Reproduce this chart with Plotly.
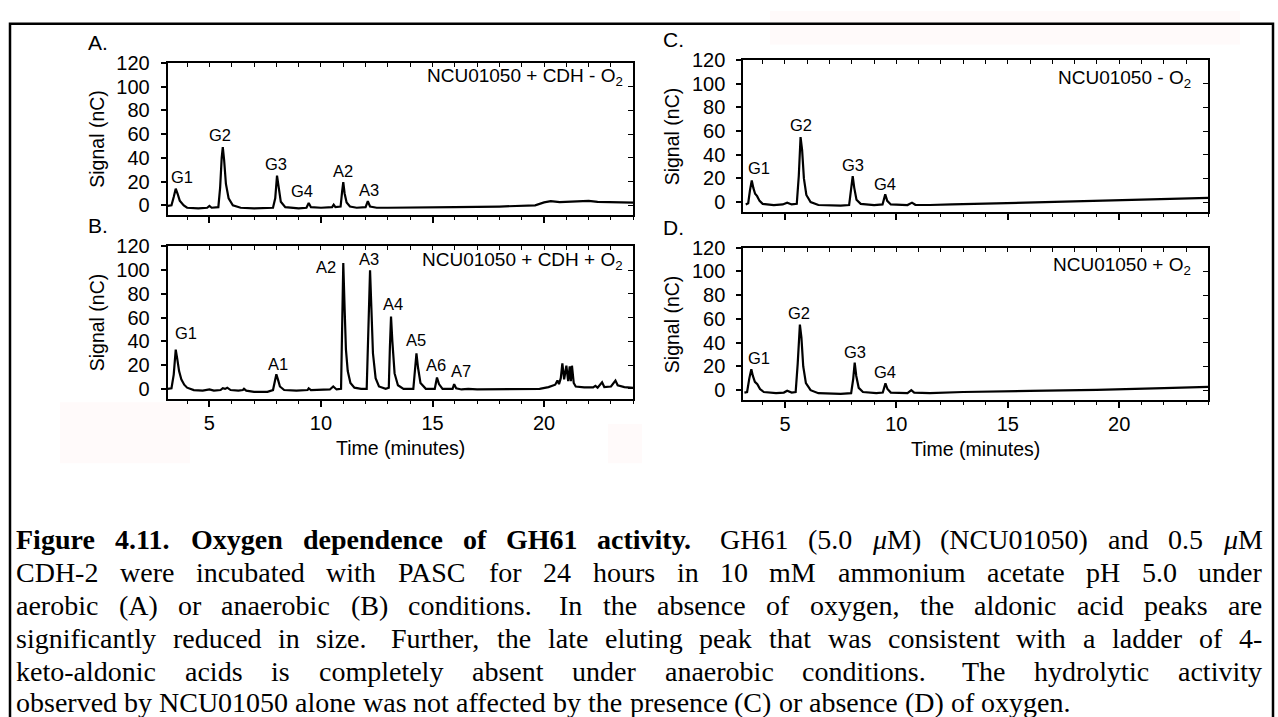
import plotly.graph_objects as go

# ---------------------------------------------------------------------------
# Chromatograms: (retention time [min], signal [nC]) pairs for each run
# ---------------------------------------------------------------------------
a_trace = [(3.13, -0.5), (3.3, 0), (3.4, 7), (3.49, 14), (3.57, 10), (3.67, 4), (3.85, 0),
           (4.0, -2), (4.5, -2.5), (4.9, -2), (5.0, -0.5), (5.1, -2), (5.4, -1.5), (5.48, 15),
           (5.55, 40), (5.6, 49), (5.66, 38), (5.74, 18), (5.86, 6), (6.05, 0), (6.4, -2),
           (7.0, -2.5), (7.85, -2), (7.95, 6), (8.03, 25), (8.1, 14), (8.2, 3), (8.4, -1.5),
           (9.0, -2.5), (9.35, -2), (9.45, 2), (9.55, -1.5), (10.0, -2), (10.5, -1.5),
           (10.57, 0.5), (10.65, -1.5), (10.88, -1), (10.95, 12), (11.0, 19.5), (11.06, 10),
           (11.15, 2.5), (11.3, -1), (11.6, -2), (12.0, -1.5), (12.1, 3.5), (12.2, -1),
           (12.5, -2), (13.0, -2), (14.0, -2), (16.0, -1.5), (18.0, -1), (19.0, -0.5),
           (19.6, 0), (20.0, 2.5), (20.3, 3.5), (20.7, 2.8), (21.2, 3), (21.6, 3.2), (22.0, 3.8),
           (22.4, 3), (23.0, 2.8), (23.5, 3), (24.0, 2.3)]

b_trace = [(3.12, 0), (3.3, 0.5), (3.4, 12), (3.49, 33), (3.56, 25), (3.64, 15), (3.74, 8),
           (3.87, 3.5), (4.0, 1), (4.3, -1), (4.7, -1.5), (5.0, -0.5), (5.2, -1.5), (5.5, -1),
           (5.6, 0.5), (5.7, 0), (5.8, 1), (5.95, -1), (6.3, -1.5), (6.5, -1), (6.55, 0),
           (6.65, -1.5), (7.0, -2.5), (7.6, -2.5), (7.85, -1), (7.94, 9), (8.0, 12.3), (8.07, 8),
           (8.16, 2), (8.35, -1), (8.9, -1.5), (9.4, -1), (9.45, 0.5), (9.55, -1), (10.0, -1),
           (10.4, -0.5), (10.55, 2), (10.7, -0.5), (10.9, 0), (10.96, 55), (11.0, 106),
           (11.06, 68), (11.12, 33), (11.2, 15), (11.32, 5), (11.5, 1), (11.8, 0), (12.05, 0),
           (12.14, 55), (12.2, 100), (12.26, 68), (12.33, 30), (12.45, 9), (12.6, 2), (12.9, 0),
           (13.04, 1), (13.09, 35), (13.14, 61), (13.2, 40), (13.3, 13), (13.45, 3), (13.7, 0),
           (14.14, 0), (14.21, 15), (14.28, 30), (14.35, 18), (14.46, 5), (14.7, 0), (15.1, 0),
           (15.2, 9.6), (15.29, 4), (15.45, 0), (15.9, 0), (15.97, 4), (16.06, 0.5),
           (16.3, -0.5), (16.6, 0), (17.0, -0.5), (18.0, -0.5), (19.0, -0.5), (19.8, 0),
           (20.2, 1.5), (20.5, 3.5), (20.6, 7), (20.67, 4), (20.75, 9), (20.82, 21.5), (20.9, 8),
           (21.0, 19.5), (21.08, 6.5), (21.15, 19), (21.2, 6.5), (21.25, 19.5), (21.33, 5),
           (21.42, 2), (21.8, 1.3), (22.2, 1.3), (22.3, 2.5), (22.4, 1), (22.6, 5.5), (22.7, 1.5),
           (23.0, 2), (23.2, 7), (23.3, 3), (23.6, 1.5), (24.0, 0.8)]

c_trace = [(3.24, -2), (3.35, -1), (3.43, 10), (3.51, 18.3), (3.58, 12), (3.66, 7), (3.75, 5),
           (3.86, 1), (4.0, -1.5), (4.5, -2.5), (4.9, -2), (5.1, -0.5), (5.3, -2), (5.53, -1.5),
           (5.62, 22), (5.7, 55), (5.77, 44), (5.85, 20), (5.96, 6), (6.15, 0), (6.5, -2.5),
           (7.5, -3), (7.88, -2.5), (7.97, 9), (8.04, 22), (8.11, 12), (8.21, 2), (8.4, -1.5),
           (9.0, -2.5), (9.38, -2), (9.5, 6.5), (9.59, 1), (9.75, -2), (10.5, -2.5), (10.7, -0.5),
           (10.85, -2.3), (11.5, -2.5), (12.5, -2), (15.0, -1), (18.0, 0.5), (21.0, 2),
           (24.0, 3.5)]

d_trace = [(3.18, -2), (3.3, -1.5), (3.4, 10), (3.49, 17.7), (3.56, 12), (3.65, 7), (3.76, 5),
           (3.88, 1), (4.05, -1.5), (4.6, -2.5), (4.95, -2), (5.1, -0.5), (5.3, -2), (5.48, -1.5),
           (5.57, 22), (5.67, 55.2), (5.74, 44), (5.82, 20), (5.94, 6), (6.15, 0), (6.5, -2.5),
           (7.5, -3), (7.97, -2.5), (8.06, 9), (8.13, 23.2), (8.2, 12), (8.31, 2), (8.5, -1.5),
           (9.1, -2.5), (9.39, -2), (9.51, 5.8), (9.6, 1), (9.75, -2), (10.5, -2.5), (10.67, 0),
           (10.8, -2), (11.5, -2.5), (13.0, -1.5), (16.0, -0.5), (19.0, 0.3), (22.0, 1.8),
           (24.0, 2.8)]

# Peak assignments: name, apex time, apex signal
a_peak_names = ["G1", "G2", "G3", "G4", "A2", "A3"]
a_peak_times = [3.49, 5.6, 8.03, 9.45, 11.0, 12.1]
a_peak_heights = [14, 49, 25, 2, 19.5, 3.5]

b_peak_names = ["G1", "A1", "A2", "A3", "A4", "A5", "A6", "A7"]
b_peak_times = [3.49, 8.0, 11.0, 12.2, 13.14, 14.28, 15.2, 15.97]
b_peak_heights = [33, 12.3, 106, 100, 61, 30, 9.6, 4]

c_peak_names = ["G1", "G2", "G3", "G4"]
c_peak_times = [3.51, 5.7, 8.04, 9.5]
c_peak_heights = [18.3, 55, 22, 6.5]

d_peak_names = ["G1", "G2", "G3", "G4"]
d_peak_times = [3.49, 5.67, 8.13, 9.51]
d_peak_heights = [17.7, 55.2, 23.2, 5.8]

panel_letters = ["A.", "B.", "C.", "D."]
sample_names = ["NCU01050 + CDH - O<sub>2</sub>", "NCU01050 + CDH + O<sub>2</sub>",
                "NCU01050 - O<sub>2</sub>", "NCU01050 + O<sub>2</sub>"]

x_tick_values = [5, 10, 15, 20]
x_range = [3.13, 24.0]
y_range = [-8.3, 120]
x_title = "Time (minutes)"
y_title = "Signal (nC)"

caption_lines = [
    [("Figure 4.11. Oxygen dependence of GH61 activity.", True),
     (" GH61 (5.0 μM) (NCU01050) and 0.5 μM", False)],
    [("CDH-2 were incubated with PASC for 24 hours in 10 mM ammonium acetate pH 5.0 under", False)],
    [("aerobic (A) or anaerobic (B) conditions.  In the absence of oxygen, the aldonic acid peaks are", False)],
    [("significantly reduced in size.  Further, the late eluting peak that was consistent with a ladder of 4-", False)],
    [("keto-aldonic acids is completely absent under anaerobic conditions.  The hydrolytic activity", False)],
    [("observed by NCU01050 alone was not affected by the presence (C) or absence (D) of oxygen.", False)],
]

# ---------------------------------------------------------------------------
# Page geometry (pixels)
# ---------------------------------------------------------------------------
W, H = 1278, 717
SANS = "Liberation Sans, Arial, Helvetica, sans-serif"
SERIF = "Liberation Serif, Times New Roman, serif"
TICK_SIZE = 20
TITLE_SIZE = 19.5
PEAK_SIZE = 16.5
NAME_SIZE = 19
LETTER_SIZE = 21


def px(x):
    return x / W


def py(y):
    return 1 - y / H


# plot boxes: left, right, top, bottom
boxes = [
    (167.7, 633.3, 52.7, 207.7),
    (167.7, 633.3, 239.5, 394.3),
    (743.3, 1208.3, 50.0, 204.3),
    (743.3, 1208.3, 240.7, 395.7),
]
show_x_labels = [False, True, False, True]

# label offsets in pixels (dx, dy) relative to each peak apex
label_offsets = [
    [(6, 12), (-3, 12), (-1, 12), (-6.5, 12), (0, 11.5), (1, 11.5)],
    [(10, 17), (2, 10), (-17, -3.5), (-1, 11), (1.5, 12), (0, 13), (-1, 12), (7, 13.5)],
    [(7, 12), (0, 12), (0, 11), (0, 10.5)],
    [(7.3, 11), (-1, 11.5), (0, 11), (0, 11.5)],
]
name_pos = [(623, 67), (623, 254), (1191, 69), (1191, 259)]

# faint off-white patches of the pasted panels (x0, x1, y0, y1)
patches = [(770, 1240, 0, 34), (60, 190, 398, 460), (608, 642, 420, 460)]

traces = [a_trace, b_trace, c_trace, d_trace]
peaks = [
    (a_peak_names, a_peak_times, a_peak_heights),
    (b_peak_names, b_peak_times, b_peak_heights),
    (c_peak_names, c_peak_times, c_peak_heights),
    (d_peak_names, d_peak_times, d_peak_heights),
]

fig = go.Figure()
layout = dict(
    width=W, height=H, margin=dict(l=0, r=0, t=0, b=0),
    paper_bgcolor="white", plot_bgcolor="rgba(0,0,0,0)", showlegend=False,
    font=dict(family=SANS, color="black"),
)
annotations = []
shapes = []

for x0, x1, y0, y1 in patches:
    shapes.append(dict(type="rect", xref="paper", yref="paper", layer="below",
                       x0=px(x0), x1=px(x1), y0=py(y1), y1=py(y0),
                       line=dict(width=0), fillcolor="#fffafa"))

for k in range(4):
    m, n = 2 * k + 1, 2 * k + 2
    sm = "" if m == 1 else str(m)
    left, right, top, bottom = boxes[k]
    xd = [px(left), px(right)]
    yd = [py(bottom), py(top)]

    t_vals = [p[0] for p in traces[k]]
    s_vals = [p[1] for p in traces[k]]
    fig.add_trace(go.Scatter(x=t_vals, y=s_vals, mode="lines",
                             line=dict(color="black", width=2.2),
                             xaxis=f"x{sm}", yaxis=f"y{sm}", hoverinfo="skip"))
    # companion subplot carrying the inward ticks on the top and right frame
    fig.add_trace(go.Scatter(x=[], y=[], mode="lines", xaxis=f"x{n}", yaxis=f"y{n}",
                             hoverinfo="skip"))

    layout[f"xaxis{sm}"] = dict(
        domain=xd, range=x_range, anchor=f"y{sm}", showline=True, linewidth=2,
        linecolor="black", mirror=True, ticks="outside", tickvals=x_tick_values,
        ticklen=6, tickwidth=1.5, tickcolor="black", showgrid=False, zeroline=False,
        showticklabels=show_x_labels[k], tickfont=dict(size=TICK_SIZE, family=SANS),
        ticklabelstandoff=-1,
        minor=dict(ticks="outside", tick0=0, dtick=1, ticklen=3, tickwidth=1.2,
                   tickcolor="black", showgrid=False),
    )
    layout[f"yaxis{sm}"] = dict(
        domain=yd, range=y_range, anchor=f"x{sm}", showline=True, linewidth=2,
        linecolor="black", mirror=True, ticks="outside", tick0=0, dtick=20,
        ticklen=5, tickwidth=1.5, tickcolor="black", showgrid=False, zeroline=False,
        tickfont=dict(size=TICK_SIZE, family=SANS), ticklabelstandoff=7,
    )
    layout[f"xaxis{n}"] = dict(
        overlaying=f"x{sm}", side="top", anchor=f"y{n}", range=x_range,
        ticks="inside", tick0=0, dtick=1, ticklen=4, tickwidth=1.2, tickcolor="black",
        showticklabels=False, showline=False, showgrid=False, zeroline=False,
    )
    layout[f"yaxis{n}"] = dict(
        overlaying=f"y{sm}", side="right", anchor=f"x{n}", range=y_range,
        ticks="inside", tick0=0, dtick=20, ticklen=5, tickwidth=1.2, tickcolor="black",
        showticklabels=False, showline=False, showgrid=False, zeroline=False,
    )

    # white plotting area
    shapes.append(dict(type="rect", xref="paper", yref="paper", layer="below",
                       x0=xd[0], x1=xd[1], y0=yd[0], y1=yd[1],
                       line=dict(width=0), fillcolor="white"))

    # peak labels
    names, times, heights = peaks[k]
    for j, (nm, t, h) in enumerate(zip(names, times, heights)):
        dx, dy = label_offsets[k][j]
        annotations.append(dict(
            x=t, y=h, xref=f"x{sm}", yref=f"y{sm}", text=nm, showarrow=False,
            xanchor="center", yanchor="middle", xshift=dx, yshift=dy,
            font=dict(size=PEAK_SIZE, family=SANS, color="black"),
        ))

    # sample description in the upper right corner
    nx, ny = name_pos[k]
    annotations.append(dict(
        x=px(nx), y=py(ny), xref="paper", yref="paper", text=sample_names[k],
        showarrow=False, xanchor="right", yanchor="middle",
        font=dict(size=NAME_SIZE, family=SANS, color="black"), borderpad=0, borderwidth=0,
    ))

    # panel letter
    annotations.append(dict(
        x=px(left - 82), y=py(top - 21), xref="paper", yref="paper",
        text=panel_letters[k], showarrow=False, xanchor="left", yanchor="middle",
        font=dict(size=LETTER_SIZE, family=SANS, color="black"),
    ))

    # y-axis title
    annotations.append(dict(
        x=px(left - 71), y=py((top + bottom) / 2), xref="paper", yref="paper",
        text=y_title, textangle=-90, showarrow=False, xanchor="center", yanchor="middle",
        font=dict(size=TITLE_SIZE, family=SANS, color="black"),
    ))

    if show_x_labels[k]:
        annotations.append(dict(
            x=px((left + right) / 2), y=py(bottom + 50), xref="paper", yref="paper",
            text=x_title, showarrow=False, xanchor="center", yanchor="middle",
            font=dict(size=TITLE_SIZE, family=SANS, color="black"),
        ))

# ---------------------------------------------------------------------------
# Caption, set as justified lines using Times character widths (1/1000 em)
# ---------------------------------------------------------------------------
REG = dict(zip(" !(),-.0123456789:;", [250, 333, 333, 333, 250, 333, 250] + [500] * 10 + [278, 278]))
REG.update(dict(zip("ABCDEFGHIJKLMNOPQRSTUVWXYZ",
                    [722, 667, 667, 722, 611, 556, 722, 722, 333, 389, 722, 611, 889, 722, 722,
                     556, 722, 667, 556, 611, 722, 722, 944, 722, 722, 611])))
REG.update(dict(zip("abcdefghijklmnopqrstuvwxyz",
                    [444, 500, 444, 500, 444, 333, 500, 500, 278, 278, 500, 278, 778, 500, 500,
                     500, 500, 333, 389, 278, 500, 500, 722, 500, 500, 444])))
REG["μ"] = 500
BOLD = dict(REG)
BOLD.update(dict(zip("ABCDEFGHIJKLMNOPQRSTUVWXYZ",
                     [722, 667, 722, 722, 667, 611, 778, 778, 389, 500, 778, 667, 944, 722, 778,
                      611, 778, 722, 556, 667, 722, 722, 1000, 722, 722, 667])))
BOLD.update(dict(zip("abcdefghijklmnopqrstuvwxyz",
                     [500, 556, 444, 556, 444, 333, 500, 556, 278, 333, 556, 278, 833, 556, 500,
                      556, 556, 444, 389, 333, 556, 500, 722, 500, 500, 444])))

CAP_SIZE = 28
CAP_LEFT, CAP_RIGHT = 16, 1262
cap_line_y = [537, 571, 604.5, 638, 671.5, 703]


def word_width(word, bold):
    table = BOLD if bold else REG
    return sum(table.get(ch, 500) for ch in word) / 1000 * CAP_SIZE


for li, segments in enumerate(caption_lines):
    words = []  # (text, bold, gap_units_before)
    for text, bold in segments:
        pending = 0
        for tok in text.split(" "):
            if tok == "":
                pending += 1
                continue
            gap = 0 if not words else pending + 1
            words.append((tok, bold, gap))
            pending = 0
    space = 250 / 1000 * CAP_SIZE
    total_words = sum(word_width(w, b) for w, b, _ in words)
    gap_units = [g for _, _, g in words]
    n_gaps = sum(1 for g in gap_units if g > 0)
    natural = total_words + space * sum(gap_units)
    justify = li < len(caption_lines) - 1
    extra = (CAP_RIGHT - CAP_LEFT - natural) / n_gaps if (justify and n_gaps) else 0
    x = CAP_LEFT
    for w, b, g in words:
        if g > 0:
            x += space * g + extra
        label = w.replace("μ", "<i>μ</i>")
        if b:
            label = f"<b>{label}</b>"
        annotations.append(dict(
            x=px(x), y=py(cap_line_y[li]), xref="paper", yref="paper", text=label,
            showarrow=False, xanchor="left", yanchor="middle", borderpad=0, borderwidth=0,
            font=dict(size=CAP_SIZE, family=SERIF, color="black"),
        ))
        x += word_width(w, b)

# frame around the whole figure
shapes.append(dict(type="rect", xref="paper", yref="paper",
                   x0=px(10), x1=px(1273), y0=py(740), y1=py(13),
                   line=dict(color="black", width=2.5), fillcolor="rgba(0,0,0,0)"))

layout["annotations"] = annotations
layout["shapes"] = shapes
fig.update_layout(**layout)
fig.write_html("out.html")
